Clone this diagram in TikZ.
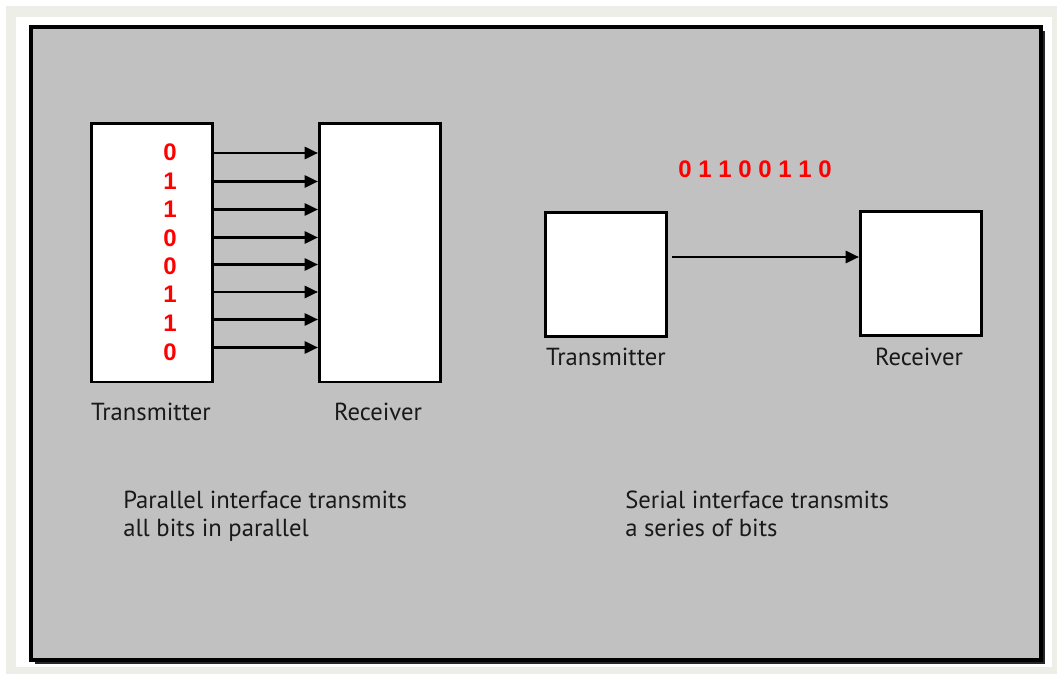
\documentclass[tikz,border=0pt]{standalone}
\usepackage{fontspec}
\setmainfont{PT Sans}
\newfontfamily\bitfont{Liberation Sans}
\usetikzlibrary{arrows.meta}

\definecolor{panelgray}{RGB}{193,193,193}
\definecolor{pageedge}{RGB}{238,238,232}
\definecolor{bitred}{RGB}{255,0,0}

\tikzset{
  box/.style={draw, line width=2pt, fill=white, anchor=north west, inner sep=0pt},
  lbl/.style={inner sep=0.75pt, font=\fontsize{18.5}{21}\selectfont, text=black!90},
  bit/.style={inner sep=0pt, font=\bitfont\bfseries\fontsize{18}{20}\selectfont, text=bitred},
  wire/.style={line width=2pt, -{Triangle[length=10pt,width=9pt]}},
}

\begin{document}
\begin{tikzpicture}[x=0.75pt,y=0.75pt,yscale=-1]
\useasboundingbox (0,0) rectangle (1057,674);

%Background page
\fill[white] (0,0) rectangle (1057,674);
\fill[pageedge] (6,6) rectangle (1057,674);
\fill[white] (16,17) rectangle (1052,667);
%Panel shadow and panel
\fill[black!85] (35,31) rectangle (1045,664);
\draw[line width=3pt, fill=panelgray] (31,27) rectangle (1041,660);

%Parallel: boxes
\node[box, minimum width=91pt, minimum height=194pt] (ptx) at (90,122) {};
\node[box, minimum width=91pt, minimum height=194pt] (prx) at (318,122) {};

% Bits
\node[bit] (b1) at (170,152) {0};
\node[bit] (b2) at (170,181) {1};
\node[bit] (b3) at (170,209) {1};
\node[bit] (b4) at (170,238) {0};
\node[bit] (b5) at (170,266) {0};
\node[bit] (b6) at (170,294) {1};
\node[bit] (b7) at (170,323) {1};
\node[bit] (b8) at (170,352) {0};

% Wires
\coordinate (w1) at (0,153);
\coordinate (w2) at (0,181.5);
\coordinate (w3) at (0,209.5);
\coordinate (w4) at (0,237.5);
\coordinate (w5) at (0,264.5);
\coordinate (w6) at (0,292);
\coordinate (w7) at (0,319.5);
\coordinate (w8) at (0,347.5);
\draw[wire] (ptx.east |- w1) -- (prx.west |- w1);
\draw[wire] (ptx.east |- w2) -- (prx.west |- w2);
\draw[wire] (ptx.east |- w3) -- (prx.west |- w3);
\draw[wire] (ptx.east |- w4) -- (prx.west |- w4);
\draw[wire] (ptx.east |- w5) -- (prx.west |- w5);
\draw[wire] (ptx.east |- w6) -- (prx.west |- w6);
\draw[wire] (ptx.east |- w7) -- (prx.west |- w7);
\draw[wire] (ptx.east |- w8) -- (prx.west |- w8);

% Text Node
\node[lbl] (ptxl) at (151,412) {Transmitter};
% Text Node
\node[lbl] (prxl) at (378,412) {Receiver};
% Text Node
\node[lbl, anchor=north west, align=left] (pcap) at (122,490) {Parallel interface transmits\\all bits in parallel};

%Serial: boxes
\node[box, minimum width=91pt, minimum height=93pt] (stx) at (544,211) {};
\node[box, minimum width=91pt, minimum height=93pt] (srx) at (859,210) {};
\draw[wire] ([xshift=3pt]stx.east |- 0,257) -- (srx.west |- 0,257);

% Text Node
\node[bit] (sbits) at (755,169) {0 1 1 0 0 1 1 0};
% Text Node
\node[lbl] (stxl) at (606,357) {Transmitter};
% Text Node
\node[lbl] (srxl) at (919,357) {Receiver};
% Text Node
\node[lbl, anchor=north west, align=left] (scap) at (624,490) {Serial interface transmits\\a series of bits};

\end{tikzpicture}
\end{document}
